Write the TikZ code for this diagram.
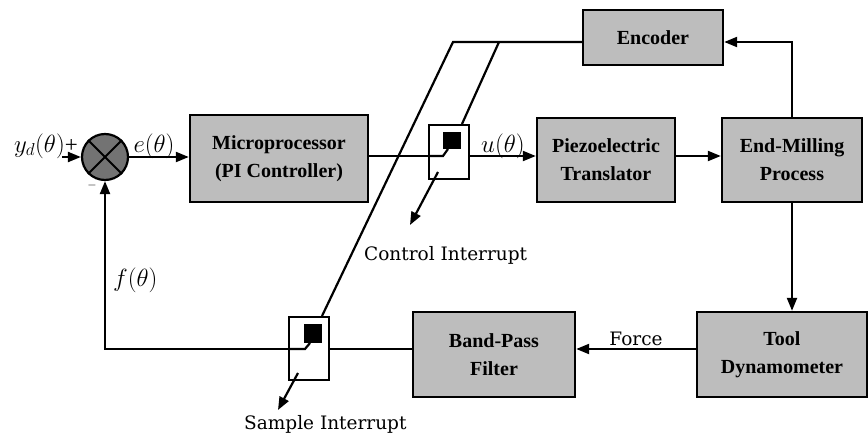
\documentclass[tikz,border=0pt]{standalone}
\usepackage{fontspec}
\setmainfont{Liberation Serif}
\newfontfamily\lblfont{DejaVu Serif}
\usetikzlibrary{arrows.meta,calc}
\begin{document}
\begin{tikzpicture}[x=1pt,y=-1pt,
  blk/.style={draw, line width=2.4pt, fill=black!26, align=center, inner sep=0pt,
    font=\fontsize{20}{28}\selectfont\bfseries},
  sh/.style={draw, line width=2pt, fill=white, inner sep=0pt},
  ln/.style={line width=2.2pt},
  arr/.style={line width=2.2pt, -{Triangle[length=13pt,width=10pt]}},
  mlbl/.style={font=\fontsize{23}{23}\selectfont, inner sep=0pt},
  tlbl/.style={font=\lblfont\fontsize{18.5}{20}\selectfont, inner sep=0pt}]
\useasboundingbox (0,0) rectangle (868,436);
% blocks
\node[blk, minimum width=178pt, minimum height=87pt] (micro) at (279,158.5) {Microprocessor\\(PI Controller)};
\node[blk, minimum width=138pt, minimum height=84pt] (piezo) at (606,160) {Piezoelectric\\Translator};
\node[blk, minimum width=140pt, minimum height=84pt] (mill) at (792,160) {End-Milling\\Process};
\node[blk, minimum width=140pt, minimum height=55pt] (enc) at (653,37.5) {Encoder};
\node[blk, minimum width=170pt, minimum height=85pt] (tool) at (782,354.5) {Tool\\Dynamometer};
\node[blk, minimum width=162pt, minimum height=85pt] (bpf) at (494,354.5) {Band-Pass\\Filter};
% sample/hold switches
\node[sh, minimum width=40pt, minimum height=54pt] (ctrl) at (449,152) {};
\node[sh, minimum width=40pt, minimum height=63pt] (samp) at (309,348.5) {};
% summing junction
\node[circle, draw, line width=2.2pt, fill=black!55, minimum size=46pt, inner sep=0pt] (sum) at (105,157) {};
\draw[line width=2pt] (sum.north west) -- (sum.south east) (sum.north east) -- (sum.south west);
% row coordinates
\coordinate (row) at (0,156);
\coordinate (erow) at (0,42);
\coordinate (frow) at (0,349);
\coordinate (in) at (62,157);
\coordinate (ebend) at (453,42);
\coordinate (ebr) at (499,42);
\coordinate (fb) at (105,349);
% connectors
\draw[arr] (in) -- (sum.west);
\draw[arr] (sum.east) -- (micro.west |- sum.east);
\draw[ln] (micro.east |- row) -- (ctrl.west |- row);
\draw[arr] (ctrl.east |- row) -- (piezo.west |- row);
\draw[arr] (piezo.east |- row) -- (mill.west |- row);
\draw[arr] (mill.north) |- (enc.east |- erow);
\draw[ln] (enc.west |- erow) -- (ebend) -- ($(samp.north)+(13,0)$);
\draw[ln] (ebr) -- ($(ctrl.north)+(13,0)$);
\draw[arr] (mill.south) -- (mill.south |- tool.north);
\draw[arr] (tool.west |- frow) -- (bpf.east |- frow);
\draw[ln] (bpf.west |- frow) -- (samp.east |- frow);
\draw[arr] (samp.west |- frow) -- (fb) -- (sum.south);
% switch internals
\fill ($(ctrl)+(-6,-20)$) rectangle ($(ctrl)+(12,-3)$);
\draw[ln] (ctrl.west |- row) -- ($(ctrl)+(-6,4)$) -- ($(ctrl)+(-1,-3)$);
\draw[arr] ($(ctrl)+(-11,20)$) -- ($(ctrl)+(-39,73)$);
\fill ($(samp)+(-5,-24.5)$) rectangle ($(samp)+(13,-5.5)$);
\draw[ln] (samp.west |- frow) -- ($(samp)+(-4,0.5)$) -- ($(samp)+(1,-5.5)$);
\draw[arr] ($(samp)+(-11,24.5)$) -- ($(samp)+(-31,61.5)$);
% labels
\node[mlbl, anchor=base east] (yd) at (78,152) {$y_d(\theta)$+};
\node[mlbl, anchor=base] (e) at (154,152) {$e(\theta)$};
\node[mlbl, anchor=base] (u) at (503,152) {$u(\theta)$};
\node[mlbl, anchor=west] (f) at (113,280) {$f(\theta)$};
\node[font=\fontsize{12}{12}\selectfont, inner sep=0pt] (minus) at (92,185) {$-$};
\node[tlbl] (force) at (636,339) {Force};
\node[tlbl, anchor=west] (ci) at (364,255) {Control Interrupt};
\node[tlbl, anchor=west] (si) at (244,424) {Sample Interrupt};
\end{tikzpicture}
\end{document}
